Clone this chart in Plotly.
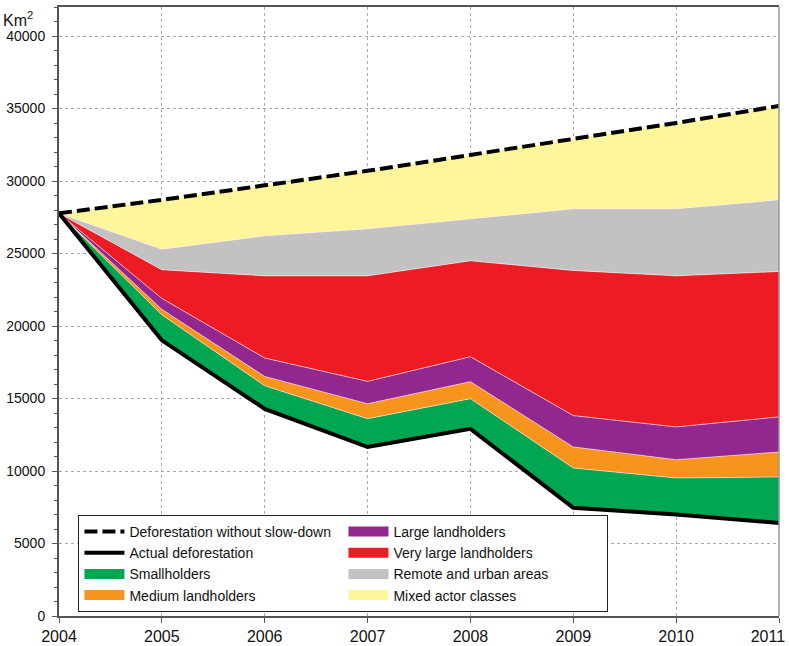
import numpy as np
import plotly.graph_objects as go

years = [2004, 2005, 2006, 2007, 2008, 2009, 2010, 2011]
year_labels = ["2004", "2005", "2006", "2007", "2008", "2009", "2010", "2011\u00a0\u00a0\u00a0\u00a0\u00a0"]
no_slowdown = [27772, 28700, 29700, 30700, 31800, 32900, 34000, 35180]
actual = [27772, 19014, 14286, 11651, 12911, 7464, 7000, 6418]
smallholders = [0, 1756, 1594, 1959, 2079, 2746, 2520, 3172]
medium = [0, 380, 640, 1030, 1170, 1450, 1260, 1720]
large = [0, 750, 1270, 1540, 1720, 2160, 2260, 2420]
very_large = [0, 1980, 5670, 7280, 6620, 10010, 10420, 10030]
remote = [0, 1420, 2760, 3240, 2890, 4250, 4620, 4940]

layer_names = ["Smallholders", "Medium landholders", "Large landholders",
               "Very large landholders", "Remote and urban areas", "Mixed actor classes"]
layer_colors = ["#00A651", "#F7941D", "#92278F", "#ED1C24", "#C2C2C2", "#FFF59B"]

fig = go.Figure()

base = np.array(actual, dtype=float)
fig.add_trace(go.Scatter(x=years, y=base, mode="lines", line=dict(width=0),
                         showlegend=False, hoverinfo="skip"))
layers = [smallholders, medium, large, very_large, remote]
cum = base.copy()
for name, vals, col in zip(layer_names[:5], layers, layer_colors[:5]):
    cum = cum + np.array(vals, dtype=float)
    fig.add_trace(go.Scatter(x=years, y=cum.copy(), mode="lines", fill="tonexty",
                             fillcolor=col, line=dict(width=0.7, color="rgba(255,235,235,0.9)"),
                             name=name, showlegend=False))
fig.add_trace(go.Scatter(x=years, y=no_slowdown, mode="lines", fill="tonexty",
                         fillcolor=layer_colors[5], line=dict(width=0),
                         name=layer_names[5], showlegend=False))

fig.add_trace(go.Scatter(x=years, y=no_slowdown, mode="lines",
                         line=dict(color="black", width=4, dash="13px,5px"),
                         showlegend=False))
fig.add_trace(go.Scatter(x=years, y=actual, mode="lines",
                         line=dict(color="black", width=4), showlegend=False))

# legend entries (row-major order for two columns)
legend_items = [
    ("Deforestation without slow-down", "black", 4, "13px,5px"),
    ("Large landholders", layer_colors[2], 11, "solid"),
    ("Actual deforestation", "black", 4, "solid"),
    ("Very large landholders", layer_colors[3], 11, "solid"),
    ("Smallholders", layer_colors[0], 11, "solid"),
    ("Remote and urban areas", layer_colors[4], 11, "solid"),
    ("Medium landholders", layer_colors[1], 11, "solid"),
    ("Mixed actor classes", layer_colors[5], 11, "solid"),
]
for nm, col, w, dash in legend_items:
    fig.add_trace(go.Scatter(x=[None], y=[None], mode="lines", name=nm,
                             line=dict(color=col, width=w, dash=dash)))

font_family = "Arial, Liberation Sans, sans-serif"
fig.update_layout(
    width=789, height=646,
    margin=dict(l=59, r=10, t=7, b=29.5, autoexpand=False),
    plot_bgcolor="white", paper_bgcolor="white",
    font=dict(family=font_family, color="#111"),
    showlegend=True,
    legend=dict(orientation="h", x=0.027, y=0.166, xanchor="left", yanchor="top",
                entrywidth=209, entrywidthmode="pixels", traceorder="normal",
                bgcolor="white", bordercolor="#222", borderwidth=1,
                font=dict(size=14, family=font_family, color="#111"),
                itemwidth=40, tracegroupgap=0),
    xaxis=dict(range=[2004, 2011], tickmode="array", tickvals=years,
               ticktext=year_labels, ticklabeloverflow="allow",
               tickfont=dict(size=16), ticks="outside", ticklen=5, tickcolor="#555",
               showline=True, linecolor="#555", linewidth=2, mirror=True,
               showgrid=True, gridcolor="#aaa", griddash="dot", gridwidth=1,
               zeroline=False, automargin=False),
    yaxis=dict(range=[0, 42000], tickvals=list(range(0, 45000, 5000)), tickformat="d",
               tickfont=dict(size=14), ticks="outside", ticklen=5, tickcolor="#555",
               ticklabelstandoff=4,
               minor=dict(dtick=1000, ticks="outside", ticklen=3, tickcolor="#555", showgrid=False),
               showline=True, linecolor="#555", linewidth=2, mirror=False,
               showgrid=True, gridcolor="#aaa", griddash="dot", gridwidth=1,
               zeroline=False, automargin=False),
    annotations=[dict(text="Km<sup>2</sup>", x=0, y=1, xref="paper", yref="paper",
                      xanchor="left", yanchor="middle", xshift=-58, yshift=-12,
                      showarrow=False, font=dict(size=16, family=font_family, color="#111"))],
    shapes=[dict(type="line", xref="paper", yref="paper", x0=1, x1=1, y0=0, y1=1,
                 line=dict(color="#999", width=1.5))],
)

fig.write_html("out.html", config={"displayModeBar": False},
               post_script="document.body.style.margin='0';")
